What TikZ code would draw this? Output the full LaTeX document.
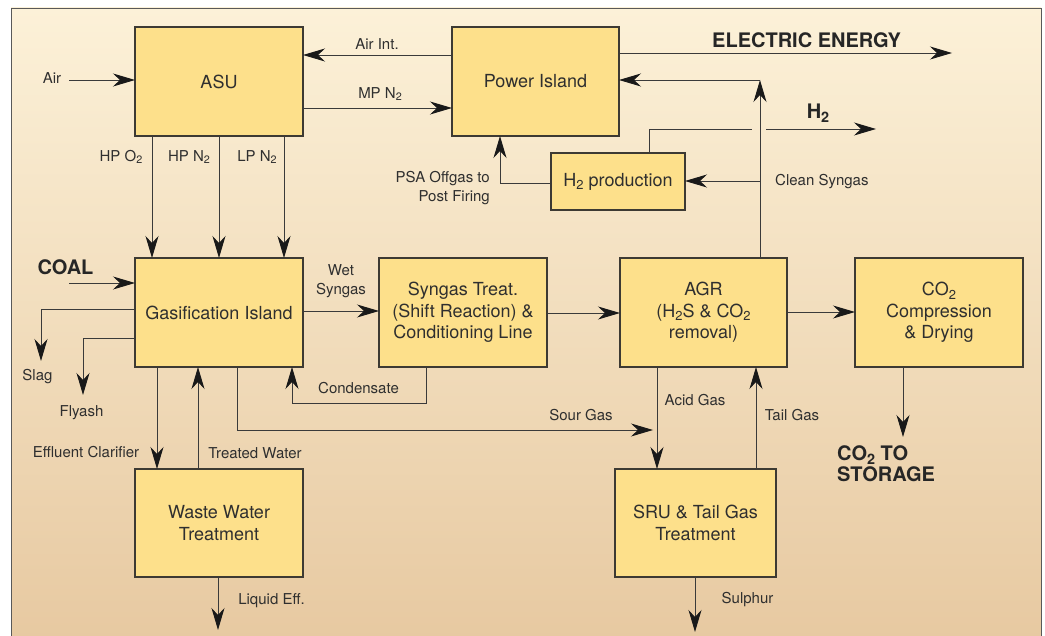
\documentclass[tikz,border=0pt]{standalone}
\usepackage{fontspec}
\setmainfont{TeX Gyre Heros}
\usetikzlibrary{arrows.meta}
\definecolor{boxfill}{HTML}{FDE08B}
\definecolor{boxline}{HTML}{3D3A33}
\definecolor{linec}{HTML}{3A3A3A}
\definecolor{txt}{HTML}{2F2F2F}
\definecolor{bgtop}{HTML}{FCF1D8}
\definecolor{bgbot}{HTML}{E7C9A1}
\newcommand{\sbs}[1]{\raisebox{-0.35ex}{\fontsize{0.72em}{1em}\selectfont #1}}
\tikzset{
  unit/.style={draw=boxline, fill=boxfill, line width=1.1pt, inner sep=0pt, outer sep=0pt,
    align=center, text=txt, font=\fontsize{18}{21.5}\selectfont},
  lbl/.style={text=txt, font=\fontsize{15}{18.5}\selectfont, inner sep=0pt, align=center},
  blbl/.style={text=black!85, font=\fontsize{20}{21}\selectfont\bfseries, inner sep=0pt},
  arr/.style={-{Stealth[length=22pt,width=13pt,inset=7pt,color=black!90]}},
  conn/.style={draw=linec, line width=0.9pt}
}
\begin{document}
\begin{tikzpicture}[x=1pt,y=-1pt]
\useasboundingbox (0,0) rectangle (1045,636);
\fill[white] (0,0) rectangle (1045,636);
\shade[top color=bgtop, bottom color=bgbot] (11,8) rectangle (1041,640);
\draw[draw=gray!70!black, line width=0.9pt] (11,640) -- (11,8) -- (1041,8) -- (1041,640);

% units
\node[unit, minimum width=168pt, minimum height=109pt] (asu) at (219,81.5) {ASU};
\node[unit, minimum width=167pt, minimum height=109pt] (pow) at (535.5,81.5) {Power Island};
\node[unit, minimum width=134pt, minimum height=57pt] (h2p) at (618,181.5) {H\sbs{2} production};
\node[unit, minimum width=168pt, minimum height=109pt] (gas) at (219,312.5) {Gasification Island};
\node[unit, minimum width=168pt, minimum height=109pt] (syn) at (463,312.5) {Syngas Treat.\\(Shift Reaction) \&\\Conditioning Line};
\node[unit, minimum width=167pt, minimum height=109pt] (agr) at (703.5,312.5) {AGR\\(H\sbs{2}S \& CO\sbs{2}\\removal)};
\node[unit, minimum width=168pt, minimum height=109pt] (co2) at (939,312.5) {CO\sbs{2}\\Compression\\\& Drying};
\node[unit, minimum width=168pt, minimum height=108pt] (ww) at (219,523) {Waste Water\\Treatment};
\node[unit, minimum width=161pt, minimum height=108pt] (sru) at (695.5,523) {SRU \& Tail Gas\\Treatment};

% coordinates
\coordinate (airS) at (69,80);
\coordinate (ai) at (0,55);
\coordinate (mp) at (0,108);
\coordinate (ee) at (952,53);
\coordinate (cs) at (760,80);
\coordinate (cs2) at (760,181);
\coordinate (h2a) at (649,129);
\coordinate (h2b) at (752,129);
\coordinate (h2c) at (766,129);
\coordinate (h2d) at (876,129);
\coordinate (psa) at (500,183);
\coordinate (hpo) at (152,0);
\coordinate (hpn) at (219,0);
\coordinate (lpn) at (284,0);
\coordinate (coalS) at (69,283);
\coordinate (sl) at (41,309);
\coordinate (slE) at (41,361);
\coordinate (fa) at (83,338);
\coordinate (faE) at (83,395);
\coordinate (ef) at (157,0);
\coordinate (tw) at (198,0);
\coordinate (sg) at (237,430);
\coordinate (sgE) at (653,430);
\coordinate (cd1) at (426,403);
\coordinate (cd2) at (292,403);
\coordinate (ws) at (0,311);
\coordinate (sa) at (0,313);
\coordinate (ac) at (0,312);
\coordinate (acid) at (657,0);
\coordinate (tail) at (756,0);
\coordinate (cst) at (903,437);
\coordinate (liq) at (218,630);
\coordinate (sul) at (695,632);

% connectors
\draw[conn, arr] (airS) -- (asu.west |- airS);
\draw[conn, arr] (pow.west |- ai) -- (asu.east |- ai);
\draw[conn, arr] (asu.east |- mp) -- (pow.west |- mp);
\draw[conn, arr] (pow.east |- ee) -- (ee);
\draw[conn, arr] (agr.north -| cs) -- (cs);
\draw[conn, arr] (cs) -- (pow.east |- cs);
\draw[conn, arr] (cs2) -- (h2p.east |- cs2);
\draw[conn] (h2p.north -| h2a) -- (h2a) -- (h2b);
\draw[conn, arr] (h2c) -- (h2d);
\draw[conn, arr] (h2p.west |- psa) -- (psa) -- (pow.south -| psa);
\draw[conn, arr] (asu.south -| hpo) -- (gas.north -| hpo);
\draw[conn, arr] (asu.south -| hpn) -- (gas.north -| hpn);
\draw[conn, arr] (asu.south -| lpn) -- (gas.north -| lpn);
\draw[conn, arr] (coalS) -- (gas.west |- coalS);
\draw[conn, arr] (gas.west |- sl) -- (sl) -- (slE);
\draw[conn, arr] (gas.west |- fa) -- (fa) -- (faE);
\draw[conn, arr] (gas.south -| ef) -- (ww.north -| ef);
\draw[conn, arr] (ww.north -| tw) -- (gas.south -| tw);
\draw[conn, arr] (gas.south -| sg) -- (sg) -- (sgE);
\draw[conn, arr] (syn.south -| cd1) -- (cd1) -- (cd2) -- (gas.south -| cd2);
\draw[conn, arr] (gas.east |- ws) -- (syn.west |- ws);
\draw[conn, arr] (syn.east |- sa) -- (agr.west |- sa);
\draw[conn, arr] (agr.east |- ac) -- (co2.west |- ac);
\draw[conn, arr] (agr.south -| acid) -- (sru.north -| acid);
\draw[conn, arr] (sru.north -| tail) -- (agr.south -| tail);
\draw[conn, arr] (co2.south -| cst) -- (cst);
\draw[conn, arr] (ww.south -| liq) -- (liq);
\draw[conn, arr] (sru.south -| sul) -- (sul);

% labels
\node[lbl] (lAir) at (52,78) {Air};
\node[lbl] (lAirInt) at (377,44) {Air Int.};
\node[lbl] (lMP) at (380,94) {MP N\sbs{2}};
\node[blbl, anchor=west] (lEE) at (712,40) {ELECTRIC ENERGY};
\node[blbl] (lH2) at (818,113) {H\sbs{2}};
\node[lbl, anchor=west] (lCS) at (775,182) {Clean Syngas};
\node[lbl, align=right, anchor=east] (lPSA) at (490,188) {PSA Offgas to\\Post Firing};
\node[lbl] (lHPO) at (121,157) {HP O\sbs{2}};
\node[lbl] (lHPN) at (189,157) {HP N\sbs{2}};
\node[lbl] (lLPN) at (257,157) {LP N\sbs{2}};
\node[blbl] (lCoal) at (65.5,267) {COAL};
\node[lbl] (lSlag) at (37.5,377) {Slag};
\node[lbl] (lFly) at (81.5,413) {Flyash};
\node[lbl] (lEff) at (86,452) {Effluent Clarifier};
\node[lbl] (lTW) at (255,453) {Treated Water};
\node[lbl] (lWet) at (341,281) {Wet\\Syngas};
\node[lbl] (lCond) at (358.5,388) {Condensate};
\node[lbl] (lSour) at (581,415) {Sour Gas};
\node[lbl] (lAcid) at (695,400) {Acid Gas};
\node[lbl] (lTail) at (792,415) {Tail Gas};
\node[blbl, align=left, anchor=west] (lStor) at (837,463.5) {CO\sbs{2} TO\\STORAGE};
\node[lbl] (lLiq) at (271.5,601) {Liquid Eff.};
\node[lbl] (lSul) at (747.5,600) {Sulphur};
\end{tikzpicture}
\end{document}
